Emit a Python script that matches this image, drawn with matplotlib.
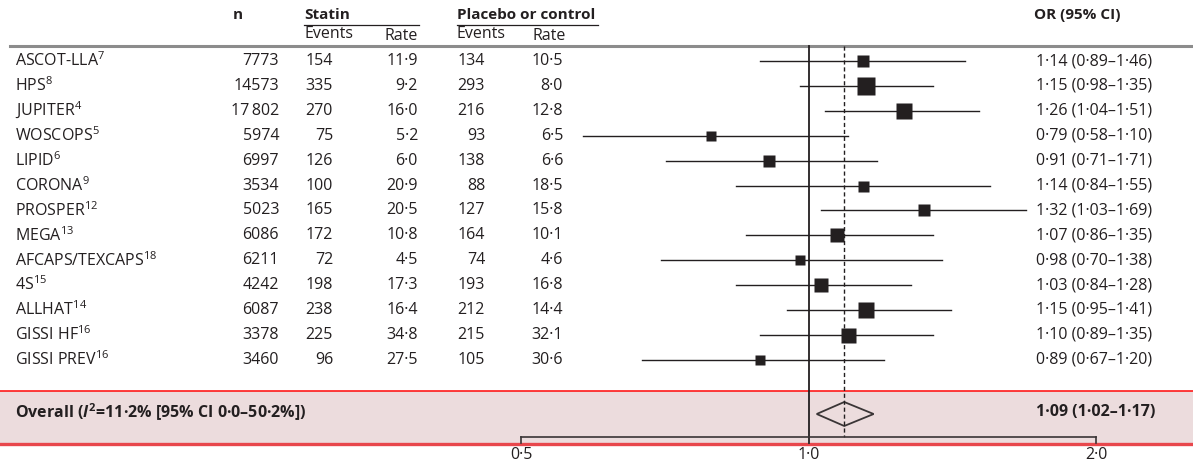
import numpy as np
import matplotlib
matplotlib.use("Agg")
import matplotlib.pyplot as plt
from matplotlib.patches import Rectangle, Polygon

plt.rcParams['font.family'] = ['Open Sans', 'DejaVu Sans']
plt.rcParams['mathtext.fontset'] = 'custom'
plt.rcParams['mathtext.rm'] = 'Open Sans'
plt.rcParams['mathtext.it'] = 'Open Sans:italic:bold'
plt.rcParams['mathtext.bf'] = 'Open Sans:bold'

# ---- data ----
studies = ["ASCOT-LLA", "HPS", "JUPITER", "WOSCOPS", "LIPID", "CORONA", "PROSPER",
           "MEGA", "AFCAPS/TEXCAPS", "4S", "ALLHAT", "GISSI HF", "GISSI PREV"]
refs = ["7", "8", "4", "5", "6", "9", "12", "13", "18", "15", "14", "16", "16"]
n_total = ["7773", "14573", "17\u2009802", "5974", "6997", "3534", "5023",
           "6086", "6211", "4242", "6087", "3378", "3460"]
statin_events = [154, 335, 270, 75, 126, 100, 165, 172, 72, 198, 238, 225, 96]
statin_rate = ["11·9", "9·2", "16·0", "5·2", "6·0", "20·9", "20·5",
               "10·8", "4·5", "17·3", "16·4", "34·8", "27·5"]
ctrl_events = [134, 293, 216, 93, 138, 88, 127, 164, 74, 193, 212, 215, 105]
ctrl_rate = ["10·5", "8·0", "12·8", "6·5", "6·6", "18·5", "15·8",
             "10·1", "4·6", "16·8", "14·4", "32·1", "30·6"]
odds = [1.14, 1.15, 1.26, 0.79, 0.91, 1.14, 1.32, 1.07, 0.98, 1.03, 1.15, 1.10, 0.89]
ci_lo = [0.89, 0.98, 1.04, 0.58, 0.71, 0.84, 1.03, 0.86, 0.70, 0.84, 0.95, 0.89, 0.67]
ci_hi = [1.46, 1.35, 1.51, 1.10, 1.18, 1.55, 1.69, 1.35, 1.38, 1.28, 1.41, 1.35, 1.20]
or_labels = ["1·14 (0·89–1·46)", "1·15 (0·98–1·35)", "1·26 (1·04–1·51)",
             "0·79 (0·58–1·10)", "0·91 (0·71–1·71)", "1·14 (0·84–1·55)",
             "1·32 (1·03–1·69)", "1·07 (0·86–1·35)", "0·98 (0·70–1·38)",
             "1·03 (0·84–1·28)", "1·15 (0·95–1·41)", "1·10 (0·89–1·35)",
             "0·89 (0·67–1·20)"]
box_px = [12, 18, 16, 10, 12, 11, 12, 14, 10, 14, 16, 15, 10]

overall_or, overall_lo, overall_hi = 1.09, 1.02, 1.17
overall_label = "1·09 (1·02–1·17)"
overall_text = r"Overall ($\mathit{I}^{\mathbf{2}}$=11·2% [95% CI 0·0–50·2%])"
ticks = [0.5, 1.0, 2.0]
tick_labels = ["0·5", "1·0", "2·0"]

# ---- layout (pixel coordinates) ----
W, H = 1193, 463
TXT = "#231f20"
FS = 11.5      # body text
FSB = 11       # bold headers
row0, drow = 61, 24.9
rows_y = [row0 + i * drow for i in range(len(studies))]
y_over = 414
y_rule = 46
y_axis = 437

fig = plt.figure(figsize=(W / 100, H / 100), dpi=100)
bg = fig.add_axes([0, 0, 1, 1])
bg.set_xlim(0, W)
bg.set_ylim(H, 0)
bg.axis("off")

# overall band
bg.add_patch(Rectangle((0, 391), W, 53, facecolor="#ecdcdd", edgecolor="none", zorder=0))
bg.plot([0, W], [391, 391], color="#ff1a1a", lw=1.2, zorder=1)
bg.plot([0, W], [444, 444], color="#e8474c", lw=2.4, zorder=1)

# header
bg.text(233, 15, "n", fontsize=FSB, fontweight="bold", color=TXT, va="center")
bg.text(304, 15, "Statin", fontsize=FSB, fontweight="bold", color=TXT, va="center")
bg.plot([304, 419], [25, 25], color=TXT, lw=0.9)
bg.text(457, 15, "Placebo or control", fontsize=FSB, fontweight="bold", color=TXT, va="center")
bg.plot([457, 598], [25, 25], color=TXT, lw=0.9)
bg.text(304, 34, "Events", fontsize=FS, color=TXT, va="center")
bg.text(384, 36, "Rate", fontsize=FS, color=TXT, va="center")
bg.text(457, 34, "Events", fontsize=FS, color=TXT, va="center")
bg.text(532, 36, "Rate", fontsize=FS, color=TXT, va="center")
bg.text(1034, 15, "OR (95% CI)", fontsize=FSB, fontweight="bold", color=TXT, va="center")
bg.plot([10, W], [y_rule, y_rule], color="#8c8c8c", lw=2.2)

# table rows
for i, y in enumerate(rows_y):
    bg.text(15, y, studies[i] + r"$^{\mathrm{" + refs[i] + "}}$", fontsize=FS, color=TXT, va="center")
    bg.text(279, y, n_total[i], fontsize=FS, color=TXT, va="center", ha="right")
    bg.text(333, y, str(statin_events[i]), fontsize=FS, color=TXT, va="center", ha="right")
    bg.text(418, y, statin_rate[i], fontsize=FS, color=TXT, va="center", ha="right")
    bg.text(485, y, str(ctrl_events[i]), fontsize=FS, color=TXT, va="center", ha="right")
    bg.text(563, y, ctrl_rate[i], fontsize=FS, color=TXT, va="center", ha="right")
    bg.text(1036, y, or_labels[i], fontsize=FS, color=TXT, va="center")

bg.text(15, y_over - 2, overall_text, fontsize=FS, fontweight="bold", color=TXT, va="center")
bg.text(1036, y_over - 2, overall_label, fontsize=FS, fontweight="bold", color=TXT, va="center")

# ---- forest plot ----
x0, x1 = 521, 1096
ax = fig.add_axes([x0 / W, 0, (x1 - x0) / W, 1])
ax.set_xscale("log", base=2)
ax.set_xlim(ticks[0], ticks[-1])
ax.set_ylim(H, 0)
ax.axis("off")
ax.patch.set_alpha(0)

ax.plot([1.0, 1.0], [y_rule, 443], color=TXT, lw=1.3, clip_on=False)
ax.plot([overall_or, overall_or], [y_rule, y_axis], color=TXT, lw=1.0,
        ls=(0, (3, 2)), clip_on=False)

for i, y in enumerate(rows_y):
    ax.plot([ci_lo[i], ci_hi[i]], [y, y], color=TXT, lw=1.0, clip_on=False)
    ax.plot(odds[i], y, marker="s", ms=box_px[i] * 0.72, color=TXT, mec="none", clip_on=False)

diamond = Polygon([(overall_lo, y_over), (overall_or, 402), (overall_hi, y_over), (overall_or, 426)],
                  closed=True, facecolor="none", edgecolor="#3a3536", lw=1.3)
ax.add_patch(diamond)

# bracket-style axis
ax.plot([ticks[0], ticks[-1]], [y_axis, y_axis], color="#3a3536", lw=1.2, clip_on=False)
for t, lab in zip(ticks, tick_labels):
    ax.plot([t, t], [y_axis, 443], color="#3a3536", lw=1.2, clip_on=False)
    ax.text(t, 455, lab, fontsize=FS, color=TXT, ha="center", va="center")

fig.savefig("out.png", dpi=100)
